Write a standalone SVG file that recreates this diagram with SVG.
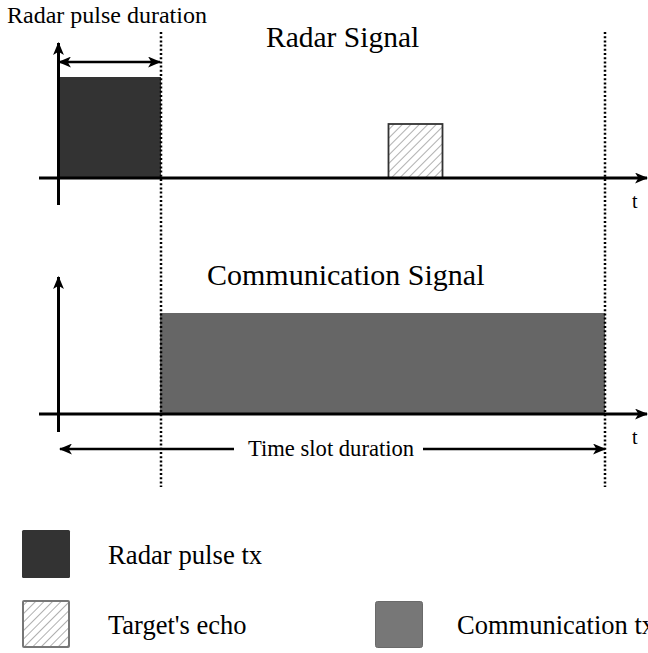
<svg xmlns="http://www.w3.org/2000/svg" width="648" height="653" viewBox="0 0 648 653">
  <style>
    .lbl { font-family: "Liberation Serif", "Times New Roman", serif; fill: #000; }
    .axis { stroke: #000; stroke-width: 3; fill: none; }
    .dim { stroke: #000; stroke-width: 2.5; fill: none; }
    .dot { stroke: #000; stroke-width: 2.5; stroke-dasharray: 2 2.2; fill: none; }
  </style>
  <defs>
    <marker id="head" viewBox="0 0 12 10" refX="11" refY="5" markerWidth="13" markerHeight="11" markerUnits="userSpaceOnUse" orient="auto-start-reverse">
      <path d="M0,0 L12,5 L0,10 L3,5 Z" fill="#000"/>
    </marker>
    <pattern id="hatch" patternUnits="userSpaceOnUse" width="6" height="6" patternTransform="rotate(45)">
      <rect width="6" height="6" fill="#fff"/>
      <line x1="0" y1="0" x2="0" y2="6" stroke="#7a7a7a" stroke-width="1.2"/>
    </pattern>
  </defs>

  <!-- Radar signal panel -->
  <g id="radar-panel">
    <rect id="radar-pulse" x="59" y="77" width="102" height="101" fill="#333"/>
    <rect id="target-echo" x="388.5" y="124" width="54" height="54" fill="url(#hatch)" stroke="#333" stroke-width="1.8"/>
    <text class="lbl" x="7" y="23" font-size="24">Radar pulse duration</text>
    <text class="lbl" x="266" y="47" font-size="29.5">Radar Signal</text>
    <text class="lbl" x="632" y="208" font-size="20">t</text>
  </g>

  <!-- Communication signal panel -->
  <g id="comm-panel">
    <rect id="comm-tx" x="160" y="313" width="445" height="101" fill="#666"/>
    <text class="lbl" x="207" y="285" font-size="30">Communication Signal</text>
    <text class="lbl" x="632" y="444" font-size="20">t</text>
    <text class="lbl" x="248" y="456" font-size="22.6">Time slot duration</text>
  </g>

  <!-- Axes, dimension arrows and time markers -->
  <g id="connectors">
    <line class="axis" x1="58.5" y1="205" x2="58.5" y2="43" marker-end="url(#head)"/>
    <line class="axis" x1="39" y1="178" x2="647" y2="178" marker-end="url(#head)"/>
    <line class="dim" x1="59" y1="62" x2="160" y2="62" marker-start="url(#head)" marker-end="url(#head)"/>

    <line class="axis" x1="58.5" y1="432" x2="58.5" y2="277" marker-end="url(#head)"/>
    <line class="axis" x1="39" y1="414" x2="647" y2="414" marker-end="url(#head)"/>

    <line class="dim" x1="234" y1="449" x2="60" y2="449" marker-end="url(#head)"/>
    <line class="dim" x1="423" y1="449" x2="605" y2="449" marker-end="url(#head)"/>

    <line class="dot" x1="161" y1="32" x2="161" y2="487"/>
    <line class="dot" x1="605" y1="32" x2="605" y2="487"/>
  </g>

  <!-- Legend -->
  <g id="legend-radar">
    <rect x="22" y="530" width="48" height="48" rx="1.5" fill="#333"/>
    <text class="lbl" x="108" y="564" font-size="26.7">Radar pulse tx</text>
  </g>
  <g id="legend-echo">
    <rect x="23" y="601" width="46" height="46" rx="1" fill="url(#hatch)" stroke="#777" stroke-width="2"/>
    <text class="lbl" x="108" y="634" font-size="26.5">Target's echo</text>
  </g>
  <g id="legend-comm">
    <rect x="375.5" y="601.5" width="47" height="46" rx="2" fill="#777" stroke="#6a6a6a" stroke-width="1"/>
    <text class="lbl" x="457" y="634" font-size="26.5">Communication tx</text>
  </g>
</svg>
